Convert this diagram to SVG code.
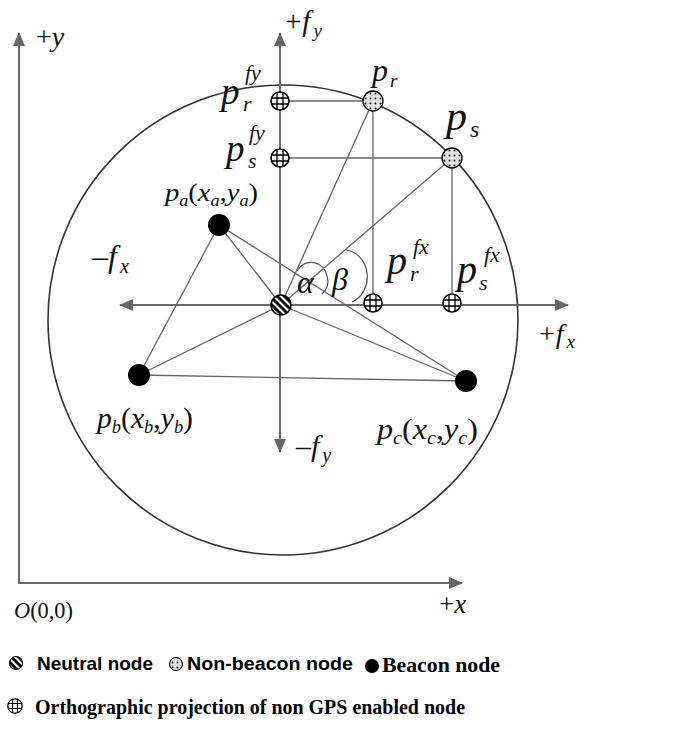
<svg xmlns="http://www.w3.org/2000/svg" width="699" height="729" viewBox="0 0 699 729">
<defs>
<style>
.axis{stroke:#6a6a6a;stroke-width:2;fill:none}
.ln{stroke:#666;stroke-width:1.3;fill:none}
.rng{stroke:#333;stroke-width:1.6;fill:none}
.arc{stroke:#555;stroke-width:1.2;fill:none}
.m{font-family:"Liberation Serif","Times New Roman",serif;fill:#111}
.i{font-style:italic}
.lgs{font-family:"Liberation Sans",Arial,sans-serif;font-weight:bold;fill:#000}
.lgr{font-family:"Liberation Serif","Times New Roman",serif;font-weight:bold;fill:#000}
</style>
<marker id="ah" markerUnits="userSpaceOnUse" markerWidth="14" markerHeight="12" refX="13" refY="6" orient="auto">
<path d="M0,0 L14,6 L0,12 Z" fill="#666"/>
</marker>
<pattern id="stripes" patternUnits="userSpaceOnUse" width="5" height="5" patternTransform="rotate(-45)">
<rect width="5" height="5" fill="#000"/><rect width="2.2" height="5" fill="#fff"/>
</pattern>
<pattern id="dots" patternUnits="userSpaceOnUse" width="5" height="5">
<rect width="5" height="5" fill="#e2e2e2"/><circle cx="2.5" cy="2.5" r="0.9" fill="#000"/>
</pattern>
<g id="proj">
<circle r="9" fill="#fff" stroke="#000" stroke-width="1.6"/>
<path d="M-3,-8.4 V8.4 M3,-8.4 V8.4 M-8.4,-3 H8.4 M-8.4,3 H8.4" stroke="#000" stroke-width="1.3"/>
</g>
<g id="neut"><circle r="10" fill="url(#stripes)" stroke="#000" stroke-width="1.5"/></g>
<g id="nonb"><circle r="10" fill="url(#dots)" stroke="#000" stroke-width="1.4"/></g>
</defs>
<rect width="699" height="729" fill="#fff"/>

<g id="range">
<circle class="rng" cx="283" cy="320" r="235"/>
</g>

<g id="connectors">
<line class="ln" x1="219" y1="225" x2="139" y2="375"/>
<line class="ln" x1="219" y1="225" x2="281" y2="305"/>
<line class="ln" x1="219" y1="225" x2="466" y2="381"/>
<line class="ln" x1="139" y1="375" x2="281" y2="305"/>
<line class="ln" x1="139" y1="375" x2="466" y2="381"/>
<line class="ln" x1="281" y1="305" x2="466" y2="381"/>
<line class="ln" x1="281" y1="305" x2="373" y2="101"/>
<line class="ln" x1="281" y1="305" x2="452" y2="158"/>
<line class="ln" x1="280" y1="101" x2="373" y2="101"/>
<line class="ln" x1="280" y1="158" x2="452" y2="158"/>
<line class="ln" x1="373" y1="101" x2="373" y2="303"/>
<line class="ln" x1="452" y1="158" x2="452" y2="303"/>
<path class="arc" d="M297,271 A16,16 0 0 1 327,276 A16,16 0 0 1 322,294"/>
<path class="arc" d="M346,250 A24,27 0 0 1 352,302"/>
</g>

<g id="axes">
<line class="axis" x1="19" y1="583" x2="19" y2="33" marker-end="url(#ah)"/>
<line class="axis" x1="18" y1="583" x2="462" y2="583" marker-end="url(#ah)"/>
<line class="axis" x1="280" y1="305" x2="280" y2="33" marker-end="url(#ah)"/>
<line class="axis" x1="280" y1="305" x2="280" y2="452" marker-end="url(#ah)"/>
<line class="axis" x1="280" y1="305" x2="568" y2="305" marker-end="url(#ah)"/>
<line class="axis" x1="280" y1="305" x2="120" y2="305" marker-end="url(#ah)"/>
</g>

<g id="node-neutral"><use href="#neut" x="281" y="305"/></g>
<g id="node-pr"><use href="#nonb" x="373" y="101"/></g>
<g id="node-ps"><use href="#nonb" x="452" y="158"/></g>
<g id="node-prfy"><use href="#proj" x="280" y="101"/></g>
<g id="node-psfy"><use href="#proj" x="280" y="158"/></g>
<g id="node-prfx"><use href="#proj" x="373" y="303"/></g>
<g id="node-psfx"><use href="#proj" x="452" y="303"/></g>
<g id="node-pa"><circle cx="219" cy="225" r="11" fill="#000"/></g>
<g id="node-pb"><circle cx="139" cy="375" r="11" fill="#000"/></g>
<g id="node-pc"><circle cx="466" cy="381" r="11" fill="#000"/></g>

<g id="labels">
<text class="m" x="36" y="46" font-size="28">+<tspan class="i">y</tspan></text>

<text class="m" x="285" y="31" font-size="29">+<tspan class="i" dx="1">f</tspan><tspan class="i" font-size="19" dx="3" dy="6">y</tspan></text>

<text class="m i" x="221" y="104" font-size="37">p</text>
<text class="m i" x="243" y="111" font-size="22">r</text>
<text class="m i" x="245" y="80" font-size="22">fy</text>

<text class="m i" x="226" y="161" font-size="37">p</text>
<text class="m i" x="248" y="168" font-size="22">s</text>
<text class="m i" x="249" y="140" font-size="22">fy</text>

<text class="m i" x="372" y="81" font-size="32">p</text>
<text class="m i" x="390" y="87" font-size="19">r</text>

<text class="m i" x="446" y="130" font-size="42">p</text>
<text class="m i" x="470" y="137" font-size="24">s</text>

<text class="m" x="165" y="201" font-size="25" textLength="93" lengthAdjust="spacingAndGlyphs"><tspan class="i">p</tspan><tspan class="i" font-size="16" dy="5">a</tspan><tspan dy="-5">(</tspan><tspan class="i">x</tspan><tspan class="i" font-size="16" dy="5">a</tspan><tspan dy="-5">,</tspan><tspan class="i">y</tspan><tspan class="i" font-size="16" dy="5">a</tspan><tspan dy="-5">)</tspan></text>

<text class="m" x="92" y="267" font-size="32">–<tspan class="i">f</tspan><tspan class="i" font-size="20" dx="3" dy="6">x</tspan></text>

<text class="m i" x="297" y="293" font-size="32">α</text>
<text class="m i" x="332" y="290" font-size="32">β</text>

<text class="m i" x="387" y="274" font-size="40">p</text>
<text class="m i" x="410" y="281" font-size="22">r</text>
<text class="m i" x="413" y="254" font-size="22">fx</text>

<text class="m i" x="457" y="283" font-size="40">p</text>
<text class="m i" x="479" y="290" font-size="22">s</text>
<text class="m i" x="484" y="262" font-size="22">fx</text>

<text class="m" x="539" y="343" font-size="28">+<tspan class="i" dx="1">f</tspan><tspan class="i" font-size="19" dx="3" dy="5">x</tspan></text>

<text class="m" x="97" y="428" font-size="29" textLength="96" lengthAdjust="spacingAndGlyphs"><tspan class="i">p</tspan><tspan class="i" font-size="18" dy="5">b</tspan><tspan dy="-5">(</tspan><tspan class="i">x</tspan><tspan class="i" font-size="18" dy="5">b</tspan><tspan dy="-5">,</tspan><tspan class="i">y</tspan><tspan class="i" font-size="18" dy="5">b</tspan><tspan dy="-5">)</tspan></text>

<text class="m" x="377" y="439" font-size="30" textLength="101" lengthAdjust="spacingAndGlyphs"><tspan class="i">p</tspan><tspan class="i" font-size="19" dy="5">c</tspan><tspan dy="-5">(</tspan><tspan class="i">x</tspan><tspan class="i" font-size="19" dy="5">c</tspan><tspan dy="-5">,</tspan><tspan class="i">y</tspan><tspan class="i" font-size="19" dy="5">c</tspan><tspan dy="-5">)</tspan></text>

<text class="m" x="296" y="456" font-size="30">–<tspan class="i">f</tspan><tspan class="i" font-size="20" dx="3" dy="6">y</tspan></text>

<text class="m" x="14" y="618" font-size="23" textLength="59" lengthAdjust="spacingAndGlyphs"><tspan class="i">O</tspan>(0,0)</text>
<text class="m" x="439" y="613" font-size="27">+<tspan class="i">x</tspan></text>
</g>

<g id="legend">
<circle cx="16" cy="663" r="6.5" fill="url(#stripes)" stroke="#000" stroke-width="1.2"/>
<text class="lgs" x="37" y="670" font-size="19" textLength="116" lengthAdjust="spacingAndGlyphs">Neutral node</text>
<circle cx="176" cy="664" r="6.5" fill="url(#dots)" stroke="#000" stroke-width="1.1"/>
<text class="lgs" x="187" y="670" font-size="19" textLength="166" lengthAdjust="spacingAndGlyphs">Non-beacon node</text>
<circle cx="372" cy="666" r="7" fill="#000"/>
<text class="lgr" x="382" y="672" font-size="22" textLength="118" lengthAdjust="spacingAndGlyphs">Beacon node</text>
<g transform="translate(15,706) scale(0.8)"><use href="#proj"/></g>
<text class="lgr" x="35" y="714" font-size="22" textLength="430" lengthAdjust="spacingAndGlyphs">Orthographic projection of non GPS enabled node</text>
</g>
</svg>
